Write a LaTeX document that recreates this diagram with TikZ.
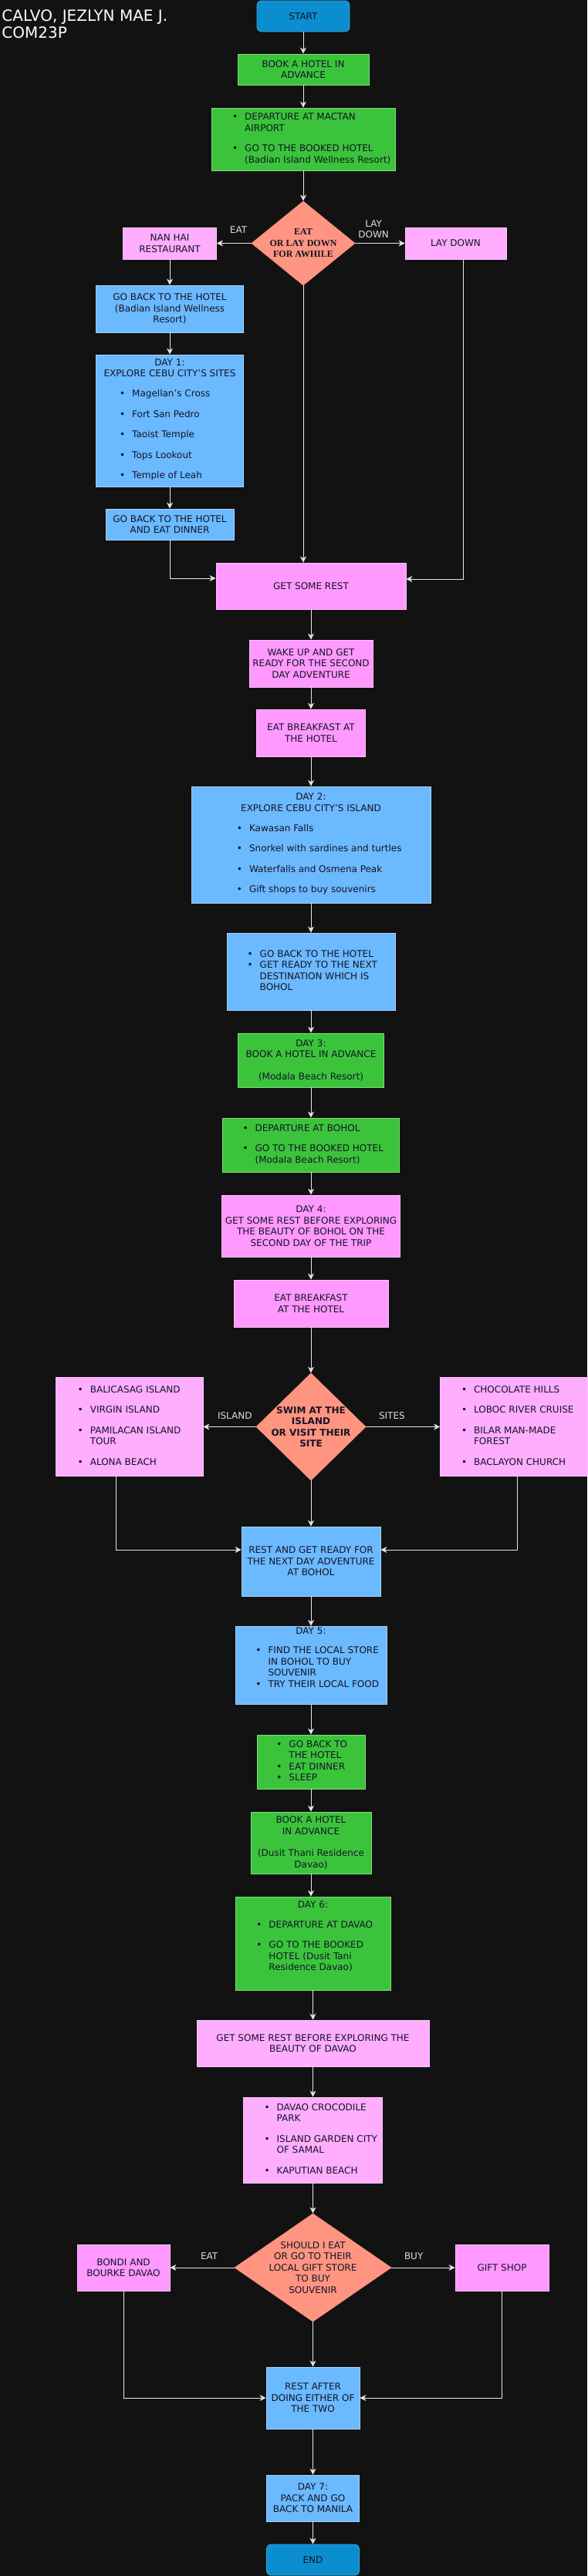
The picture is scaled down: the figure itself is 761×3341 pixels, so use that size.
\documentclass[tikz,border=0pt]{standalone}
\usepackage{fontspec}
\setmainfont{DejaVu Sans}
\newfontfamily\seriffont{Liberation Serif}
\usetikzlibrary{shapes.geometric,arrows.meta}

\definecolor{bg}{HTML}{121212}
\definecolor{termfill}{HTML}{0B8ECF}
\definecolor{termline}{HTML}{3AA6E6}
\definecolor{grnfill}{HTML}{3BC43B}
\definecolor{grnline}{HTML}{7EDB7E}
\definecolor{blufill}{HTML}{6BB9FF}
\definecolor{bluline}{HTML}{A9D3FF}
\definecolor{pnkfill}{HTML}{FF99FF}
\definecolor{pnkline}{HTML}{FFC2FF}
\definecolor{pnklfill}{HTML}{FFADFF}
\definecolor{pnklline}{HTML}{FFC8FF}
\definecolor{diafill}{HTML}{FF9580}
\definecolor{txt}{HTML}{141426}
\definecolor{arrcol}{HTML}{E6E6E6}
\definecolor{lblcol}{HTML}{DDDDDD}

\newcommand{\boxfont}{\fontsize{12}{14.5}\selectfont}
\newenvironment{blist}[1][0pt]{\begin{tabular}[t]{@{\hspace{#1}}l@{\hspace{9pt}}l@{}}}{\end{tabular}}

\begin{document}
\begin{tikzpicture}[x = 1pt, y = -1pt, line width = 0.8pt,
    box/.style = {rectangle, draw, align = center, font = \boxfont, text = txt, inner sep = 2pt},
    term/.style = {box, rounded corners = 6pt, fill = termfill, draw = termline},
    grn/.style = {box, fill = grnfill, draw = grnline},
    blu/.style = {box, fill = blufill, draw = bluline},
    pnk/.style = {box, fill = pnkfill, draw = pnkline},
    pnkl/.style = {box, fill = pnklfill, draw = pnklline},
    dia/.style = {diamond, fill = diafill, draw = diafill, align = center, font = \boxfont, text = txt, inner sep = -30pt},
    arr/.style = {draw = arrcol, -{Stealth[length = 8pt, width = 8pt, inset = 2.5pt]}},
    lbl/.style = {font = \boxfont, text = lblcol, align = center, inner sep = 2pt}]
\useasboundingbox (0,0) rectangle (761,3341);
\fill [bg] (0,0) rectangle (761,3341);
\node [anchor = north west, align = left, inner sep = 0pt, text = white,
    font = \fontsize{20}{22.5}\selectfont] (t) at (2,12) {CALVO, JEZLYN MAE J.\\COM23P};

\draw (393,21) node[term, minimum width = 120pt, minimum height = 40pt](a1){START}
    (393,90) node[grn, minimum width = 170pt, minimum height = 40pt](a2){BOOK A HOTEL IN\\ADVANCE}
    (393,180.5) node[grn, minimum width = 238pt, minimum height = 81pt](a3){\begin{blist}[21.5pt]
        \textbullet & DEPARTURE AT MACTAN\\ & AIRPORT\\[12pt]
        \textbullet & GO TO THE BOOKED HOTEL\\ & (Badian Island Wellness Resort)\end{blist}}
    (393,315.5) node[dia, minimum width = 134pt, minimum height = 109pt,
        font = \seriffont\bfseries\boxfont](a4){EAT\\OR LAY DOWN\\FOR AWHILE}
    (220,315.5) node[pnkl, minimum width = 121pt, minimum height = 41pt](a5){NAN HAI\\RESTAURANT}
    (590.5,315.5) node[pnkl, minimum width = 131pt, minimum height = 41pt](a6){LAY DOWN}
    (220,400.5) node[blu, minimum width = 191pt, minimum height = 61pt](a7){GO BACK TO THE HOTEL\\(Badian Island Wellness\\Resort)}
    (220,545.5) node[blu, minimum width = 191pt, minimum height = 171pt](a8){DAY 1:\\EXPLORE CEBU CITY'S SITES\\[11.5pt]\begin{blist}[-12.5pt]
        \textbullet & Magellan's Cross\\[12pt]
        \textbullet & Fort San Pedro\\[12pt]
        \textbullet & Taoist Temple\\[12pt]
        \textbullet & Tops Lookout\\[12pt]
        \textbullet & Temple of Leah\end{blist}}
    (220,680) node[blu, minimum width = 166pt, minimum height = 40pt](a9){GO BACK TO THE HOTEL\\AND EAT DINNER}
    (403,760) node[pnk, minimum width = 246pt, minimum height = 60pt](a10){GET SOME REST};

\draw (403,860.5) node[pnk, minimum width = 160pt, minimum height = 61pt](a11){WAKE UP AND GET\\READY FOR THE SECOND\\DAY ADVENTURE}
    (403,950.5) node[pnk, minimum width = 141pt, minimum height = 61pt](a12){EAT BREAKFAST AT\\THE HOTEL}
    (403,1095.5) node[blu, minimum width = 310pt, minimum height = 151pt](a13){DAY 2:\\EXPLORE CEBU CITY'S ISLAND\\[11.5pt]\begin{blist}[21.5pt]
        \textbullet & Kawasan Falls\\[12pt]
        \textbullet & Snorkel with sardines and turtles\\[12pt]
        \textbullet & Waterfalls and Osmena Peak\\[12pt]
        \textbullet & Gift shops to buy souvenirs\end{blist}}
    (403,1260) node[blu, minimum width = 218pt, minimum height = 100pt](a14){\begin{blist}[3.5pt]
        \textbullet & GO BACK TO THE HOTEL\\
        \textbullet & GET READY TO THE NEXT\\ & DESTINATION WHICH IS\\ & BOHOL\end{blist}}
    (403,1375) node[grn, minimum width = 189pt, minimum height = 70pt](a15){DAY 3:\\BOOK A HOTEL IN ADVANCE\\[14pt](Modala Beach Resort)}
    (403,1485) node[grn, minimum width = 229pt, minimum height = 70pt](a16){\begin{blist}[5.5pt]
        \textbullet & DEPARTURE AT BOHOL\\[12pt]
        \textbullet & GO TO THE BOOKED HOTEL\\ & (Modala Beach Resort)\end{blist}}
    (403,1590) node[pnk, minimum width = 231pt, minimum height = 80pt](a17){DAY 4:\\GET SOME REST BEFORE EXPLORING\\THE BEAUTY OF BOHOL ON THE\\SECOND DAY OF THE TRIP}
    (403,1690.5) node[pnk, minimum width = 200pt, minimum height = 61pt](a18){EAT BREAKFAST\\AT THE HOTEL}
    (403,1850.5) node[dia, minimum width = 142pt, minimum height = 139pt,
        font = \boxfont\bfseries](a19){SWIM AT THE\\ISLAND\\OR VISIT THEIR\\SITE}
    (167.5,1850.5) node[pnkl, minimum width = 191pt, minimum height = 128pt](a20){\begin{blist}
        \textbullet & BALICASAG ISLAND\\[12pt]
        \textbullet & VIRGIN ISLAND\\[12pt]
        \textbullet & PAMILACAN ISLAND\\ & TOUR\\[12pt]
        \textbullet & ALONA BEACH\end{blist}}
    (666,1850.5) node[pnkl, minimum width = 191pt, minimum height = 128pt](a21){\begin{blist}[9.5pt]
        \textbullet & CHOCOLATE HILLS\\[12pt]
        \textbullet & LOBOC RIVER CRUISE\\[12pt]
        \textbullet & BILAR MAN-MADE\\ & FOREST\\[12pt]
        \textbullet & BACLAYON CHURCH\end{blist}}
    (403,2025) node[blu, minimum width = 180pt, minimum height = 90pt](a22){REST AND GET READY FOR\\THE NEXT DAY ADVENTURE\\AT BOHOL};

\draw (403,2160) node[blu, minimum width = 196pt, minimum height = 100pt](a23){DAY 5:\\[10.5pt]\begin{blist}[16.5pt]
        \textbullet & FIND THE LOCAL STORE\\ & IN BOHOL TO BUY\\ & SOUVENIR\\
        \textbullet & TRY THEIR LOCAL FOOD\\[16pt]\end{blist}}
    (403,2285) node[grn, minimum width = 140pt, minimum height = 70pt](a24){\begin{blist}[2.5pt]
        \textbullet & GO BACK TO\\ & THE HOTEL\\
        \textbullet & EAT DINNER\\
        \textbullet & SLEEP\end{blist}}
    (403,2390) node[grn, minimum width = 156pt, minimum height = 80pt](a25){BOOK A HOTEL\\IN ADVANCE\\[14pt](Dusit Thani Residence\\Davao)}
    (405.5,2520.5) node[grn, minimum width = 201pt, minimum height = 121pt](a26){DAY 6:\\[11.5pt]\begin{blist}[4.5pt]
        \textbullet & DEPARTURE AT DAVAO\\[12pt]
        \textbullet & GO TO THE BOOKED\\ & HOTEL (Dusit Tani\\ & Residence Davao)\\[16pt]\end{blist}}
    (405.5,2650) node[pnkl, minimum width = 301pt, minimum height = 60pt](a27){GET SOME REST BEFORE EXPLORING THE\\BEAUTY OF DAVAO}
    (405.5,2775.5) node[pnkl, minimum width = 180pt, minimum height = 111pt](a28){\begin{blist}[20.5pt]
        \textbullet & DAVAO CROCODILE\\ & PARK\\[12pt]
        \textbullet & ISLAND GARDEN CITY\\ & OF SAMAL\\[12pt]
        \textbullet & KAPUTIAN BEACH\end{blist}}
    (405.5,2941) node[dia, minimum width = 203pt, minimum height = 140pt](a29){SHOULD I EAT\\OR GO TO THEIR\\LOCAL GIFT STORE\\TO BUY\\SOUVENIR}
    (160,2941) node[pnk, minimum width = 120pt, minimum height = 60pt](a30){BONDI AND\\BOURKE DAVAO}
    (650.5,2941) node[pnk, minimum width = 121pt, minimum height = 60pt](a31){GIFT SHOP}
    (405.5,3110) node[blu, minimum width = 121pt, minimum height = 80pt](a32){REST AFTER\\DOING EITHER OF\\THE TWO}
    (405.5,3240) node[blu, minimum width = 120pt, minimum height = 60pt](a33){DAY 7:\\PACK AND GO\\BACK TO MANILA}
    (405.5,3320) node[term, minimum width = 120pt, minimum height = 40pt](a34){END};

\draw [arr] (a1) -- (a2);
\draw [arr] (a2) -- (a3);
\draw [arr] (a3) -- (a4);
\draw [arr] (a4) -- (a5) node[lbl, pos = .37, above = 11pt] {EAT};
\draw [arr] (a4) -- (a6) node[lbl, pos = .37, above = 4pt] {LAY\\DOWN};
\draw [arr] (a5) -- (a7);
\draw [arr] (a7) -- (a8);
\draw [arr] (a8) -- (a9);
\draw [arr] (a9.south) |- ([yshift = 10pt]a10.west);
\draw [arr] (a4.south) -- (a4.south |- a10.north);
\draw [arr] ([xshift = 10pt]a6.south) |- ([yshift = 9pt]a10.east);
\draw [arr] (a10) -- (a11);
\draw [arr] (a11) -- (a12);
\draw [arr] (a12) -- (a13);
\draw [arr] (a13) -- (a14);
\draw [arr] (a14) -- (a15);
\draw [arr] (a15) -- (a16);
\draw [arr] (a16) -- (a17);
\draw [arr] (a17) -- (a18);
\draw [arr] (a18) -- (a19);
\draw [arr] (a19) -- (a20) node[lbl, pos = .4, above = 7pt] {ISLAND};
\draw [arr] (a19) -- (a21) node[lbl, pos = .35, above = 7pt] {SITES};
\draw [arr] ([xshift = -17pt]a20.south) |- ([yshift = 15pt]a22.west);
\draw [arr] (a19) -- (a22);
\draw [arr] ([xshift = 4pt]a21.south) |- ([yshift = 15pt]a22.east);
\draw [arr] (a22) -- (a23);
\draw [arr] (a23) -- (a24);
\draw [arr] (a24) -- (a25);
\draw [arr] (a25.south) -- (a25.south |- a26.north);
\draw [arr] (a26) -- (a27);
\draw [arr] (a27) -- (a28);
\draw [arr] (a28) -- (a29);
\draw [arr] (a29) -- (a30) node[lbl, pos = .39, above = 8pt] {EAT};
\draw [arr] (a29) -- (a31) node[lbl, pos = .35, above = 8pt] {BUY};
\draw [arr] (a29) -- (a32);
\draw [arr] (a30) |- (a32);
\draw [arr] (a31) |- (a32);
\draw [arr] (a32) -- (a33);
\draw [arr] (a33) -- (a34);
\end{tikzpicture}
\end{document}
